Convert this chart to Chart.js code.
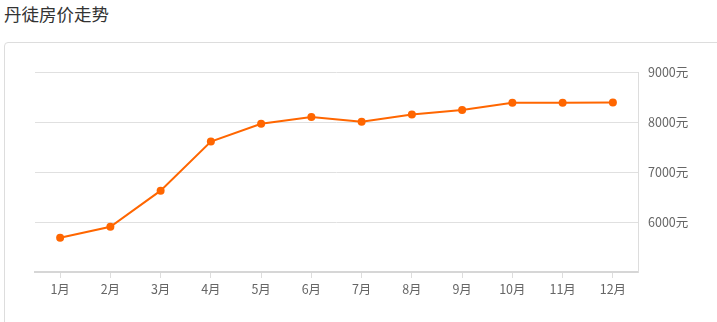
<!DOCTYPE html>
<html>
<head>
<meta charset="utf-8">
<script src="https://cdn.jsdelivr.net/npm/chart.js@4/dist/chart.umd.min.js"></script>
<style>
    html, body { margin: 0; padding: 0; background: #fff; }
    body { width: 717px; height: 322px; position: relative; overflow: hidden; font-family: "Noto Sans CJK SC", sans-serif; }
    #title { position: absolute; left: 4px; top: 2px; font-size: 17.5px; color: #333; line-height: 24px; }
    #card { position: absolute; left: 4px; top: 42px; width: 800px; height: 400px; border: 1px solid #ddd; border-radius: 4px; box-sizing: border-box; }
    #priceChart { position: absolute; left: 0; top: 0; }
</style>
</head>
<body>
<div id="title">丹徒房价走势</div>
<div id="card"></div>
<canvas id="priceChart" width="717" height="322"></canvas>
<script>
// 月份和价格 (元/平方米)
const months = ['1月', '2月', '3月', '4月', '5月', '6月', '7月', '8月', '9月', '10月', '11月', '12月'];
const prices = [5683, 5904, 6627, 7610, 7966, 8100, 8005, 8150, 8240, 8385, 8385, 8390];
const yTicks = [5000, 6000, 7000, 8000, 9000];

const lineColor = '#ff6600';
const labelFont = { family: '"Noto Sans CJK SC", sans-serif', size: 12.5 };

function initChart() {
    const ctx = document.getElementById('priceChart').getContext('2d');
    return new Chart(ctx, {
        type: 'line',
        data: {
            labels: months,
            datasets: [{
                label: '丹徒房价',
                data: prices,
                borderColor: lineColor,
                backgroundColor: lineColor,
                borderWidth: 2,
                pointRadius: 4,
                pointHoverRadius: 4,
                pointBorderWidth: 0,
                tension: 0,
                fill: false
            }]
        },
        options: {
            responsive: false,
            animation: false,
            layout: { padding: { left: 35, top: 72, right: 0, bottom: 0 } },
            plugins: {
                legend: { display: false },
                tooltip: { enabled: false }
            },
            scales: {
                x: {
                    offset: true,
                    afterFit: axis => { axis.height = 50; },
                    border: { display: true, color: '#d6d6d6', width: 2 },
                    grid: { drawOnChartArea: false, drawTicks: true, tickLength: 6, color: '#dddddd', offset: false },
                    ticks: { color: '#666', font: labelFont, padding: 4, maxRotation: 0, autoSkip: false }
                },
                y: {
                    position: 'right',
                    min: yTicks[0],
                    max: yTicks[yTicks.length - 1],
                    afterFit: axis => { axis.width = 79; },
                    afterBuildTicks: axis => { axis.ticks = yTicks.map(v => ({ value: v })); },
                    border: { display: true, color: '#dddddd', width: 1 },
                    grid: { drawTicks: false, color: '#e0e0e0', lineWidth: 1 },
                    ticks: {
                        color: '#666',
                        font: labelFont,
                        padding: 10,
                        callback: v => (v === yTicks[0] ? '' : v + '元')
                    }
                }
            }
        }
    });
}

initChart();
</script>
</body>
</html>
